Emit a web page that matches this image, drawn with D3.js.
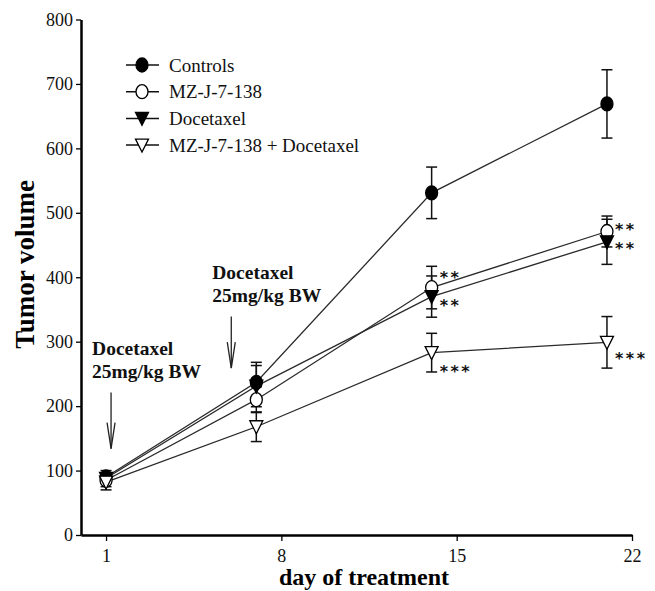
<!DOCTYPE html>
<html>
<head>
<meta charset="utf-8">
<script src="https://cdn.jsdelivr.net/npm/d3@7"></script>
<style>
  body { margin: 0; background: #fff; }
  svg { display: block; }
</style>
</head>
<body>
<svg id="chart" width="655" height="591"></svg>
<script>
// data
const days = [1, 7, 14, 21];
const seriesNames = ["Controls", "MZ-J-7-138", "Docetaxel", "MZ-J-7-138 + Docetaxel"];
const controls = [90, 237, 531, 669];
const controlsErr = [10, 31, 40, 53];
const mz = [85, 210, 384, 471];
const mzErr = [10, 20, 33, 24];
const doc = [88, 231, 370, 455];
const docErr = [8, 32, 32, 35];
const combo = [82, 168, 283, 299];
const comboErr = [12, 23, 30, 40];
const yTicks = [0, 100, 200, 300, 400, 500, 600, 700, 800];
const xTicks = [1, 8, 15, 22];
// significance marks: series index, day index, label
const stars = [
  { s: 1, i: 2, text: "**", dy: -12 },
  { s: 2, i: 2, text: "**", dy: 7 },
  { s: 1, i: 3, text: "**", dy: -4 },
  { s: 2, i: 3, text: "**", dy: 5 },
  { s: 3, i: 2, text: "***", dy: 17 },
  { s: 3, i: 3, text: "***", dy: 14 }
];
// dosing annotations (day, arrow top value, arrow tip value)
const doses = [
  { day: 1.2, from: 221, to: 134, label: ["Docetaxel", "25mg/kg BW"] },
  { day: 6.0, from: 339, to: 259, label: ["Docetaxel", "25mg/kg BW"] }
];

const svg = d3.select("#chart");
const serif = "'Liberation Serif', 'Times New Roman', serif";

const x = d3.scaleLinear().domain([0, 22]).range([81, 632]);
const y = d3.scaleLinear().domain([0, 800]).range([535, 19.5]);

const series = [
  { name: seriesNames[0], v: controls, e: controlsErr, shape: "circle", fill: "#000" },
  { name: seriesNames[1], v: mz, e: mzErr, shape: "circle", fill: "#fff" },
  { name: seriesNames[2], v: doc, e: docErr, shape: "tri", fill: "#000" },
  { name: seriesNames[3], v: combo, e: comboErr, shape: "tri", fill: "#fff" }
];

// axes
const yAxis = svg.append("g")
  .attr("transform", `translate(${x(0)},0)`)
  .call(d3.axisLeft(y).tickValues(yTicks).tickSize(5).tickSizeOuter(0).tickPadding(3));
const xAxis = svg.append("g")
  .attr("transform", `translate(0,${y(0)})`)
  .call(d3.axisBottom(x).tickValues(xTicks).tickSize(6).tickSizeOuter(0).tickPadding(5));
[yAxis, xAxis].forEach(g => {
  g.select(".domain").attr("stroke", "#000").attr("stroke-width", 2.5);
  g.selectAll(".tick line").attr("stroke", "#000").attr("stroke-width", 1.3);
  g.selectAll(".tick text").attr("fill", "#111")
    .style("font-family", serif).style("font-size", "18px");
});
xAxis.selectAll(".tick text").attr("dy", "0.9em");

svg.append("text")
  .attr("transform", `translate(34,${y(420)}) rotate(-90)`)
  .attr("text-anchor", "middle")
  .style("font-family", serif).style("font-weight", "bold").style("font-size", "27px")
  .text("Tumor volume");
svg.append("text")
  .attr("x", x(11.3)).attr("y", 585)
  .attr("text-anchor", "middle")
  .style("font-family", serif).style("font-weight", "bold").style("font-size", "24px")
  .text("day of treatment");

// lines
const line = d3.line().x((d, i) => x(days[i])).y(d => y(d));
series.forEach(s => {
  svg.append("path").datum(s.v)
    .attr("d", line)
    .attr("fill", "none").attr("stroke", "#2a2a2a").attr("stroke-width", 1.3);
});

// error bars
series.forEach(s => {
  const g = svg.append("g").attr("stroke", "#111").attr("stroke-width", 1.5);
  s.v.forEach((v, i) => {
    const cx = x(days[i]);
    g.append("line").attr("x1", cx).attr("x2", cx).attr("y1", y(v + s.e[i])).attr("y2", y(v - s.e[i]));
    [v + s.e[i], v - s.e[i]].forEach(c => {
      g.append("line").attr("x1", cx - 5.5).attr("x2", cx + 5.5).attr("y1", y(c)).attr("y2", y(c));
    });
  });
});

function marker(g, shape, fill, cx, cy) {
  if (shape === "circle") {
    g.append("ellipse").attr("cx", cx).attr("cy", cy).attr("rx", 6).attr("ry", 7)
      .attr("fill", fill).attr("stroke", "#000").attr("stroke-width", 1.3);
  } else {
    g.append("path")
      .attr("d", `M${cx - 6.5},${cy - 6} L${cx + 6.5},${cy - 6} L${cx},${cy + 7} Z`)
      .attr("fill", fill).attr("stroke", "#000").attr("stroke-width", 1.3);
  }
}

// markers
series.forEach(s => {
  const g = svg.append("g");
  s.v.forEach((v, i) => marker(g, s.shape, s.fill, x(days[i]), y(v)));
});

// significance asterisks
stars.forEach(d => {
  const s = series[d.s];
  svg.append("text")
    .attr("x", x(days[d.i]) + 8)
    .attr("y", y(s.v[d.i]) + d.dy + 7.5)
    .style("font-family", "'DejaVu Sans', sans-serif").style("font-weight", "bold")
    .style("font-size", "16px").style("letter-spacing", "2.5px").attr("fill", "#111")
    .text(d.text);
});

// dosing arrows and labels
doses.forEach(d => {
  const ax = x(d.day), y0 = y(d.from), y1 = y(d.to);
  const g = svg.append("g").attr("stroke", "#222").attr("stroke-width", 1.3).attr("fill", "none");
  g.append("line").attr("x1", ax).attr("x2", ax).attr("y1", y0).attr("y2", y1);
  g.append("path").attr("d", `M${ax - 4},${y1 - 26} L${ax},${y1} L${ax + 4},${y1 - 26}`);
  const t = svg.append("text")
    .attr("x", ax - 19).attr("y", y0 - 38)
    .style("font-family", serif).style("font-weight", "bold").style("font-size", "19.5px")
    .attr("fill", "#111");
  t.append("tspan").attr("x", ax - 19).text(d.label[0]);
  t.append("tspan").attr("x", ax - 19).attr("dy", 23.5).text(d.label[1]);
});

// legend
const legend = svg.append("g").attr("transform", "translate(126,65)");
series.forEach((s, i) => {
  const g = legend.append("g").attr("transform", `translate(0,${i * 26.7})`);
  g.append("line").attr("x1", 0).attr("x2", 33).attr("y1", 0).attr("y2", 0)
    .attr("stroke", "#111").attr("stroke-width", 1.5);
  marker(g, s.shape, s.fill, 16, 0);
  g.append("text").attr("x", 43).attr("y", 6.7)
    .style("font-family", serif).style("font-size", "19px").attr("fill", "#111")
    .text(s.name);
});
</script>
</body>
</html>
